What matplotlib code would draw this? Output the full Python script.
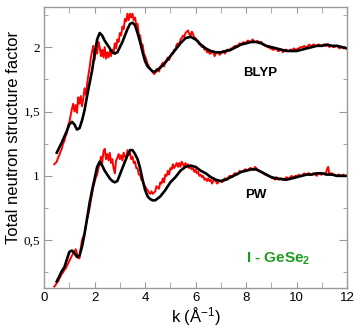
import numpy as np
import matplotlib
matplotlib.use("Agg")
import matplotlib.pyplot as plt
from matplotlib.ticker import MultipleLocator, FuncFormatter

# experimental data (red), sampled every 0.05 from k = 0.4 to 12.0
k_exp = np.linspace(0.4, 12.0, 233)

blyp_exp = [
    1.09, 1.10, 1.11, 1.14, 1.16, 1.19, 1.21, 1.25, 1.27, 1.31,
    1.33, 1.39, 1.42, 1.47, 1.52, 1.56, 1.50, 1.55, 1.49, 1.61,
    1.56, 1.62, 1.54, 1.60, 1.68, 1.63, 1.71, 1.78, 1.84, 1.92,
    1.97, 2.01, 1.90, 1.98, 1.95, 2.04, 2.00, 1.93, 1.98, 1.92,
    2.00, 1.91, 1.96, 1.92, 1.97, 1.93, 1.98, 1.96, 2.03, 1.99,
    2.06, 2.04, 2.11, 2.09, 2.16, 2.14, 2.22, 2.20, 2.26, 2.21,
    2.26, 2.23, 2.26, 2.21, 2.23, 2.17, 2.18, 2.10, 2.09, 2.02,
    2.02, 1.95, 1.93, 1.90, 1.87, 1.85, 1.83, 1.82, 1.81, 1.79,
    1.80, 1.83, 1.83, 1.81, 1.85, 1.86, 1.88, 1.85, 1.89, 1.90,
    1.92, 1.90, 1.93, 1.95, 1.95, 1.98, 1.98, 2.02, 2.03, 2.01,
    2.06, 2.07, 2.09, 2.08, 2.11, 2.12, 2.13, 2.10, 2.09, 2.12,
    2.10, 2.07, 2.07, 2.05, 2.05, 2.02, 2.02, 2.00, 2.01, 1.98,
    1.99, 1.96, 1.97, 1.95, 1.95, 1.97, 1.96, 1.93, 1.95, 1.96,
    1.96, 1.94, 1.95, 1.96, 1.97, 1.95, 1.96, 1.98, 1.98, 1.97,
    1.99, 1.99, 2.00, 2.01, 2.01, 2.00, 2.02, 2.03, 2.02, 2.03,
    2.04, 2.03, 2.03, 2.05, 2.05, 2.04, 2.04, 2.06, 2.05, 2.04,
    2.04, 2.05, 2.03, 2.04, 2.04, 2.02, 2.02, 2.01, 2.01, 2.00,
    2.00, 1.99, 1.99, 1.98, 1.98, 1.99, 1.99, 1.97, 1.97, 1.98,
    1.98, 1.96, 1.97, 1.98, 1.98, 1.97, 1.97, 1.98, 1.98, 1.98,
    1.99, 1.98, 1.98, 1.99, 1.99, 2.00, 2.00, 2.00, 2.01, 2.00,
    2.00, 2.01, 2.02, 2.01, 2.01, 2.02, 2.02, 2.01, 2.01, 2.02,
    2.02, 2.01, 2.01, 2.02, 2.02, 2.01, 2.01, 2.02, 2.00, 2.01,
    2.01, 2.00, 2.00, 2.01, 2.01, 2.00, 1.99, 2.00, 2.00, 1.99,
    2.00, 1.99, 1.99]

pw_exp = [
    0.14, 0.15, 0.17, 0.18, 0.20, 0.22, 0.24, 0.25, 0.27, 0.28,
    0.30, 0.32, 0.34, 0.36, 0.38, 0.40, 0.41, 0.43, 0.40, 0.36,
    0.36, 0.44, 0.50, 0.53, 0.55, 0.61, 0.66, 0.70, 0.75, 0.81,
    0.86, 0.92, 0.95, 0.99, 1.01, 1.06, 1.09, 1.15, 1.10, 1.19,
    1.21, 1.13, 1.17, 1.12, 1.18, 1.10, 1.13, 1.06, 1.02, 1.12,
    1.14, 1.17, 1.13, 1.16, 1.12, 1.18, 1.15, 1.13, 1.20, 1.16,
    1.18, 1.13, 1.15, 1.10, 1.11, 1.06, 1.06, 1.01, 1.01, 0.97,
    0.96, 0.93, 0.92, 0.90, 0.89, 0.87, 0.86, 0.88, 0.86, 0.87,
    0.88, 0.92, 0.91, 0.90, 0.95, 0.94, 0.98, 0.95, 1.01, 1.00,
    1.04, 1.01, 1.06, 1.05, 1.09, 1.06, 1.08, 1.10, 1.07, 1.10,
    1.07, 1.11, 1.09, 1.07, 1.10, 1.07, 1.09, 1.06, 1.07, 1.05,
    1.06, 1.03, 1.05, 1.02, 1.03, 1.00, 1.01, 0.99, 1.00, 0.97,
    0.98, 0.96, 0.98, 0.96, 0.97, 0.94, 0.96, 0.97, 0.96, 0.94,
    0.95, 0.96, 0.96, 0.95, 0.97, 0.98, 0.98, 0.97, 0.99, 1.00,
    1.00, 0.99, 1.01, 1.02, 1.02, 1.01, 1.02, 1.04, 1.03, 1.03,
    1.04, 1.05, 1.05, 1.04, 1.05, 1.06, 1.06, 1.05, 1.05, 1.07,
    1.06, 1.05, 1.04, 1.04, 1.03, 1.03, 1.02, 1.01, 1.01, 1.00,
    1.00, 0.99, 0.99, 0.98, 0.98, 0.97, 0.99, 0.98, 0.97, 0.98,
    0.98, 0.97, 0.97, 0.98, 0.99, 0.98, 0.98, 0.99, 1.00, 0.99,
    0.99, 1.00, 1.00, 1.00, 1.01, 1.00, 1.00, 1.01, 1.02, 1.01,
    1.01, 1.02, 1.02, 1.01, 1.01, 1.02, 1.02, 1.01, 1.00, 1.02,
    1.02, 1.01, 1.01, 1.02, 1.02, 1.01, 1.05, 1.07, 1.01, 1.02,
    1.02, 1.01, 1.01, 1.00, 1.00, 1.01, 1.01, 1.00, 1.00, 1.01,
    1.00, 1.00, 1.00]

# simulations (black)
k_blyp = [0.5, 0.7, 0.9, 1.0, 1.1, 1.2, 1.3, 1.4, 1.5, 1.6, 1.7, 1.8, 1.9,
          2.0, 2.1, 2.2, 2.3, 2.4, 2.5, 2.6, 2.7, 2.8, 2.9, 3.0, 3.1, 3.2,
          3.3, 3.4, 3.5, 3.6, 3.7, 3.8, 3.9, 4.0, 4.1, 4.2, 4.3, 4.4, 4.6,
          4.8, 5.0, 5.2, 5.4, 5.6, 5.8, 6.0, 6.2, 6.4, 6.6, 6.8, 7.0, 7.2,
          7.4, 7.6, 7.8, 8.0, 8.2, 8.4, 8.6, 8.8, 9.0, 9.2, 9.4, 9.6, 9.8,
          10.0, 10.2, 10.4, 10.6, 10.8, 11.0, 11.2, 11.4, 11.6, 11.8, 12.0]
blyp_sim = [1.18, 1.26, 1.35, 1.40, 1.42, 1.40, 1.36, 1.37, 1.43, 1.51, 1.62,
            1.72, 1.82, 1.95, 2.06, 2.11, 2.09, 2.05, 2.02, 1.99, 1.96, 1.95,
            1.96, 2.00, 2.04, 2.09, 2.14, 2.18, 2.19, 2.17, 2.11, 2.04, 1.96,
            1.89, 1.85, 1.83, 1.81, 1.81, 1.84, 1.88, 1.93, 1.98, 2.03, 2.07,
            2.08, 2.06, 2.02, 1.99, 1.97, 1.96, 1.96, 1.97, 1.98, 2.00, 2.02,
            2.03, 2.04, 2.04, 2.03, 2.01, 2.00, 1.99, 1.98, 1.97, 1.97, 1.97,
            1.98, 1.99, 2.00, 2.01, 2.01, 2.02, 2.01, 2.01, 2.00, 1.99]

k_pw = [0.5, 0.6, 0.7, 0.8, 0.9, 1.0, 1.1, 1.2, 1.3, 1.4, 1.5, 1.6, 1.7, 1.8,
        1.9, 2.0, 2.1, 2.2, 2.3, 2.4, 2.5, 2.6, 2.7, 2.8, 2.9, 3.0, 3.1, 3.2,
        3.3, 3.4, 3.5, 3.6, 3.7, 3.8, 3.9, 4.0, 4.1, 4.2, 4.3, 4.4, 4.6, 4.8,
        5.0, 5.2, 5.4, 5.6, 5.8, 6.0, 6.2, 6.4, 6.6, 6.8, 7.0, 7.2, 7.4, 7.6,
        7.8, 8.0, 8.2, 8.4, 8.6, 8.8, 9.0, 9.2, 9.4, 9.6, 9.8, 10.0, 10.2,
        10.4, 10.6, 10.8, 11.0, 11.2, 11.4, 11.6, 11.8, 12.0]
pw_sim = [0.18, 0.22, 0.26, 0.29, 0.35, 0.41, 0.42, 0.40, 0.37, 0.38, 0.45,
          0.55, 0.67, 0.79, 0.89, 0.98, 1.07, 1.11, 1.08, 1.04, 1.01, 0.98,
          0.96, 0.95, 0.96, 1.01, 1.06, 1.11, 1.16, 1.20, 1.20, 1.17, 1.13,
          1.06, 0.97, 0.89, 0.84, 0.82, 0.81, 0.81, 0.84, 0.89, 0.95, 0.99,
          1.04, 1.07, 1.08, 1.07, 1.04, 1.02, 0.99, 0.97, 0.96, 0.97, 0.99,
          1.01, 1.03, 1.04, 1.05, 1.05, 1.03, 1.01, 0.99, 0.98, 0.975, 0.97,
          0.98, 0.99, 1.00, 1.01, 1.01, 1.02, 1.02, 1.01, 1.01, 1.00, 1.00,
          1.00]

fig = plt.figure(figsize=(3.56, 3.29), dpi=100)
ax = fig.add_axes([0.124, 0.125, 0.851, 0.855])

ax.plot(k_exp, blyp_exp, color='red', lw=1.4)
ax.plot(k_exp, pw_exp, color='red', lw=1.4)
ax.plot(k_blyp, blyp_sim, color='black', lw=1.9)
ax.plot(k_pw, pw_sim, color='black', lw=1.9)

ax.set_xlim(0, 12)
ax.set_ylim(0.13, 2.315)

ax.xaxis.set_major_locator(MultipleLocator(2))
ax.xaxis.set_minor_locator(MultipleLocator(1))
ax.yaxis.set_major_locator(MultipleLocator(0.5))
ax.yaxis.set_minor_locator(MultipleLocator(0.25))
ax.yaxis.set_major_formatter(FuncFormatter(lambda v, p: ('%g' % v).replace('.', ',')))

ax.tick_params(which='both', direction='in', top=True, right=True, color='#999999')
ax.tick_params(axis='x', which='both', length=4, labelsize=9.5, pad=3)
ax.tick_params(axis='y', which='major', length=6, labelsize=9.5, pad=3)
ax.tick_params(axis='y', which='minor', length=3)
for lab in ax.get_yticklabels():
    lab.set_fontfamily('Liberation Serif')
for lab in ax.get_xticklabels():
    lab.set_fontfamily('Liberation Sans')
for s in ax.spines.values():
    s.set_color('#999999')
    s.set_linewidth(1.0)

ax.set_xlabel('k ($\\mathregular{\\AA^{-1}}$)', fontsize=12, family='Liberation Sans')
ax.set_ylabel('Total neutron structure factor', fontsize=12, family='Liberation Sans')
ax.xaxis.set_label_coords(0.5, -0.062)
ax.yaxis.set_label_coords(-0.076, 0.536)

ax.text(8.55, 1.80, 'BLYP', fontsize=9.5, fontweight='bold', family='Liberation Sans',
        ha='center', va='center')
ax.text(8.4, 0.85, 'PW', fontsize=9.5, fontweight='bold', family='Liberation Sans',
        ha='center', va='center')
ax.text(9.27, 0.355, 'I - GeSe$_\\mathregular{2}$', fontsize=11, fontweight='bold',
        family='Liberation Sans', color='#1e9a1e', ha='center', va='center')

plt.savefig('out.png', dpi=100)
